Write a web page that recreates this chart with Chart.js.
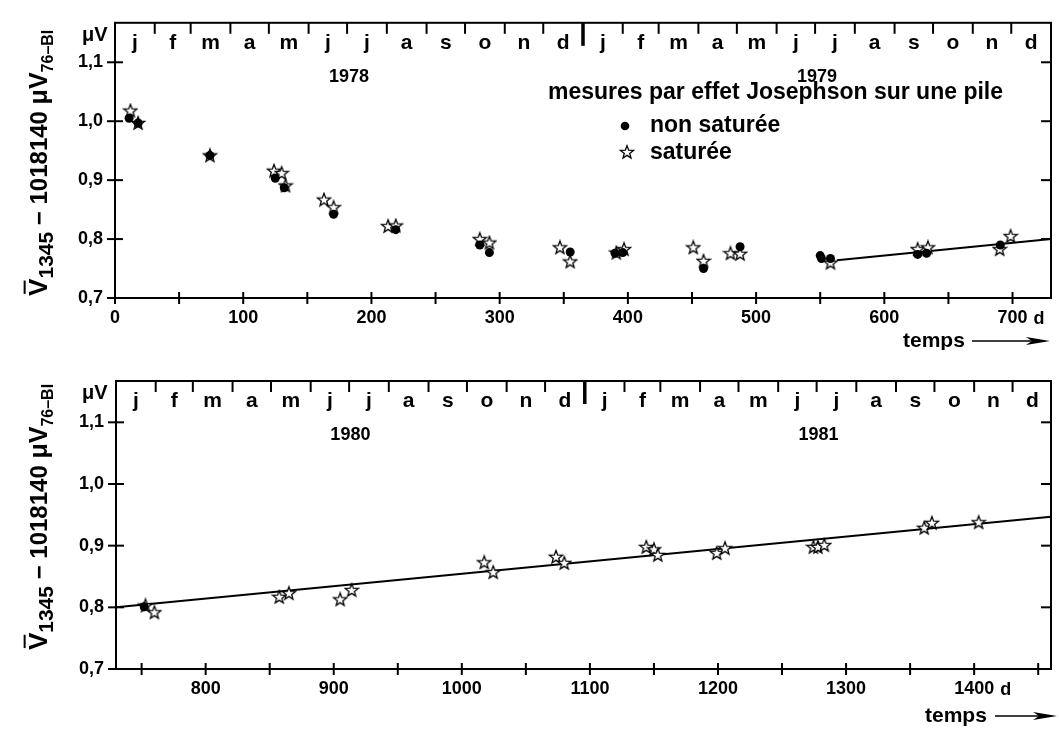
<!DOCTYPE html>
<html>
<head>
<meta charset="utf-8">
<script src="https://cdn.jsdelivr.net/npm/chart.js@4.4.0/dist/chart.umd.min.js"></script>
<style>
    html, body { margin: 0; background: #fff; }
    #wrap { position: relative; width: 1059px; height: 729px; }
    .panel { position: absolute; left: 0; width: 1059px; }
    #top { top: 0; height: 350px; }
    #bot { top: 350px; height: 379px; }
</style>
</head>
<body>
<div id="wrap">
    <div class="panel" id="top"><canvas id="c1"></canvas></div>
    <div class="panel" id="bot"><canvas id="c2"></canvas></div>
</div>
<script>
// months and month boundaries (days since 1 Jan 1978)
const months = ['j', 'f', 'm', 'a', 'm', 'j', 'j', 'a', 's', 'o', 'n', 'd']
const monthEdges1 = [0, 31, 59, 90, 120, 151, 181, 212, 243, 273, 304, 334, 365,
    396, 424, 455, 485, 516, 546, 577, 608, 638, 669, 699, 730]
const monthEdges2 = [730, 761, 790, 821, 851, 882, 912, 943, 974, 1004, 1035, 1065, 1096,
    1127, 1155, 1186, 1216, 1247, 1277, 1308, 1339, 1369, 1400, 1430, 1461]
const years1 = ['1978', '1979']
const years2 = ['1980', '1981']

const yTicks = [0.7, 0.8, 0.9, 1.0, 1.1]
const xTicks1 = [0, 50, 100, 150, 200, 250, 300, 350, 400, 450, 500, 550, 600, 650, 700]
const xTicks2 = [750, 800, 850, 900, 950, 1000, 1050, 1100, 1150, 1200, 1250, 1300, 1350, 1400, 1450]

// 1978-1979: non saturée (dots)
const dot1X = [11, 18, 74, 125, 132, 170.5, 219, 284.5, 292, 355, 390, 396, 459, 487.5, 550, 551, 558, 626, 633, 690.5]
const dot1Y = [1.005, 0.997, 0.942, 0.903, 0.887, 0.842, 0.816, 0.790, 0.777, 0.778, 0.776, 0.777, 0.750, 0.787, 0.772, 0.767, 0.767, 0.774, 0.776, 0.790]
// 1978-1979: saturée (stars)
const star1X = [12, 18, 74, 124, 130, 133, 163, 170.5, 213, 219, 284.5, 292, 347, 355, 391, 397, 451, 459, 480, 487.5, 558, 626, 634, 690, 698.5]
const star1Y = [1.018, 0.997, 0.942, 0.916, 0.912, 0.891, 0.867, 0.854, 0.822, 0.823, 0.800, 0.794, 0.786, 0.762, 0.777, 0.783, 0.786, 0.763, 0.776, 0.775, 0.760, 0.783, 0.786, 0.783, 0.805]
const fit1X = [563, 730]
const fit1Y = [0.764, 0.800]

// 1980-1981
const dot2X = [752]
const dot2Y = [0.801]
const star2X = [753, 760, 857.5, 865, 905, 914, 1017.5, 1024.5, 1073.5, 1080, 1144, 1150, 1153, 1199, 1205.5, 1274.5, 1278, 1283, 1361, 1367, 1403.5]
const star2Y = [0.803, 0.792, 0.817, 0.823, 0.813, 0.828, 0.873, 0.857, 0.882, 0.872, 0.898, 0.894, 0.885, 0.888, 0.896, 0.898, 0.898, 0.901, 0.929, 0.937, 0.938]
const fit2X = [730, 1460]
const fit2Y = [0.800, 0.947]

const FONT = '"Liberation Sans", Arial, sans-serif'
Chart.defaults.font.family = FONT
Chart.defaults.color = '#000'

function starImage(size, r) {
    const c = document.createElement('canvas')
    c.width = size
    c.height = size
    const g = c.getContext('2d')
    g.translate(size / 2, size / 2 + 0.5)
    g.beginPath()
    for (let i = 0; i < 10; i++) {
        const rr = i % 2 ? r * 0.42 : r
        const a = -Math.PI / 2 + i * Math.PI / 5
        g.lineTo(rr * Math.cos(a), rr * Math.sin(a))
    }
    g.closePath()
    g.fillStyle = '#fff'
    g.fill()
    g.lineWidth = 1.3
    g.strokeStyle = '#000'
    g.stroke()
    return c
}
const star = starImage(16, 6.8)

const pts = (xs, ys) => xs.map((x, i) => ({x, y: ys[i]}))

function drawTitle(ctx, bx, cy) {
    const parts = [
        {t: 'V', size: 26, dy: 0, bar: true},
        {t: '1345', size: 21, dy: 6},
        {t: ' \u2212 1018140 ', size: 24, dy: 0},
        {t: '\u03bcV', size: 25, dy: 0},
        {t: '76\u2013BI', size: 16, dy: 6}
    ]
    ctx.save()
    ctx.translate(bx, cy)
    ctx.rotate(-Math.PI / 2)
    let total = 0
    parts.forEach(p => {
        ctx.font = 'bold ' + p.size + 'px ' + FONT
        p.w = ctx.measureText(p.t).width
        total += p.w
    })
    let cx = -total / 2
    ctx.textAlign = 'left'
    ctx.textBaseline = 'alphabetic'
    parts.forEach(p => {
        ctx.font = 'bold ' + p.size + 'px ' + FONT
        ctx.fillText(p.t, cx, p.dy)
        if (p.bar) {
            ctx.lineWidth = 2
            ctx.beginPath()
            ctx.moveTo(cx + 2, -p.size * 0.86)
            ctx.lineTo(cx + p.w - 2, -p.size * 0.86)
            ctx.stroke()
        }
        cx += p.w
    })
    ctx.restore()
}

function drawArrow(ctx, x1, x2, y) {
    ctx.lineWidth = 1.5
    ctx.beginPath()
    ctx.moveTo(x1, y)
    ctx.lineTo(x2 - 14, y)
    ctx.stroke()
    ctx.beginPath()
    ctx.moveTo(x2, y)
    ctx.lineTo(x2 - 24, y - 4)
    ctx.lineTo(x2 - 18, y)
    ctx.lineTo(x2 - 24, y + 4)
    ctx.closePath()
    ctx.fill()
}

function makeFrame(p) {
    return {
        id: 'frame',
        afterDraw(chart) {
            const {ctx, chartArea: a, scales: {x, y}} = chart
            const seg = (x1, y1, x2, y2, w) => {
                ctx.lineWidth = w || 2
                ctx.beginPath()
                ctx.moveTo(x1, y1)
                ctx.lineTo(x2, y2)
                ctx.stroke()
            }
            ctx.save()
            ctx.strokeStyle = '#000'
            ctx.fillStyle = '#000'
            ctx.lineWidth = 2
            ctx.strokeRect(a.left, a.top, a.right - a.left, a.bottom - a.top)

            p.xTicks.forEach(v => {
                const px = x.getPixelForValue(v)
                seg(px, a.bottom - 6, px, a.bottom + 6)
            })
            yTicks.forEach(v => {
                const py = y.getPixelForValue(v)
                seg(a.left - 8, py, a.left + 8, py)
                if (v > 0.7) seg(a.right - 10, py, a.right, py)
            })

            // month ticks and letters along the top
            ctx.textAlign = 'center'
            ctx.textBaseline = 'alphabetic'
            ctx.font = 'bold 21px ' + FONT
            p.edges.forEach((e, i) => {
                if (i > 0 && i < p.edges.length - 1) {
                    const px = x.getPixelForValue(e)
                    if (i === 12) seg(px, a.top, px, a.top + 23, 3.5)
                    else seg(px, a.top, px, a.top + 11, 2)
                }
                if (i < p.edges.length - 1) {
                    const mid = (e + p.edges[i + 1]) / 2
                    ctx.fillText(months[i % 12], x.getPixelForValue(mid), a.top + 26)
                }
            })

            // years
            ctx.font = 'bold 18px ' + FONT
            p.years.forEach((yr, k) => {
                const mid = (p.edges[k * 12] + p.edges[k * 12 + 12]) / 2
                ctx.fillText(yr, x.getPixelForValue(mid), a.top + 59)
            })

            // unit at top left
            ctx.textAlign = 'left'
            ctx.font = 'bold 20px ' + FONT
            ctx.fillText('\u03bcV', 82, a.top + 18)

            // "d" after the last labelled tick
            ctx.font = 'bold 18px ' + FONT
            const lp = x.getPixelForValue(p.lastLabel)
            const hw = ctx.measureText(String(p.lastLabel)).width / 2
            ctx.fillText('d', lp + hw + 6, a.bottom + 26)

            // temps ->
            ctx.font = 'bold 21px ' + FONT
            ctx.fillText('temps', p.tempsX, a.bottom + p.tempsDy)
            drawArrow(ctx, p.arrowX1, p.arrowX2, a.bottom + p.tempsDy - 6)

            drawTitle(ctx, 47, a.top + p.titleDy)

            if (p.legend) {
                ctx.font = 'bold 23px ' + FONT
                ctx.fillText('mesures par effet Josephson sur une pile', 548, 99)
                ctx.fillText('non saturée', 650, 132)
                ctx.fillText('saturée', 650, 159)
                ctx.beginPath()
                ctx.arc(625, 126, 4.3, 0, Math.PI * 2)
                ctx.fill()
                ctx.drawImage(star, 627 - 8, 152 - 8)
            }
            ctx.restore()
        }
    }
}

function panel(canvasId, p) {
    return new Chart(document.getElementById(canvasId), {
        type: 'scatter',
        data: {
            datasets: [{
                label: 'non saturée',
                data: pts(p.dotX, p.dotY),
                pointStyle: 'circle',
                pointRadius: 4.5,
                backgroundColor: '#000',
                borderWidth: 0
            }, {
                label: 'saturée',
                data: pts(p.starX, p.starY),
                pointStyle: star,
                pointRadius: 7
            }, {
                label: 'droite',
                data: pts(p.fitX, p.fitY),
                showLine: true,
                pointRadius: 0,
                borderColor: '#000',
                borderWidth: 2
            }]
        },
        options: {
            responsive: true,
            maintainAspectRatio: false,
            animation: false,
            events: [],
            layout: {padding: {top: p.padTop, right: 2, left: 0, bottom: 0}},
            plugins: {legend: {display: false}, tooltip: {enabled: false}},
            scales: {
                x: {
                    type: 'linear',
                    min: p.xMin,
                    max: p.xMax,
                    afterBuildTicks: s => { s.ticks = p.xTicks.map(v => ({value: v})) },
                    afterFit: s => { s.height = p.xHeight },
                    grid: {display: false, drawTicks: false},
                    border: {display: false},
                    ticks: {
                        autoSkip: false, maxRotation: 0, padding: 9,
                        font: {size: 18, weight: 'bold'}, color: '#000',
                        callback: v => v % 100 === 0 ? String(v) : ''
                    }
                },
                y: {
                    min: 0.7,
                    max: 1.167,
                    afterBuildTicks: s => { s.ticks = yTicks.map(v => ({value: v})) },
                    afterFit: s => { s.width = p.yWidth },
                    grid: {display: false, drawTicks: false},
                    border: {display: false},
                    ticks: {
                        padding: 12,
                        font: {size: 18, weight: 'bold'}, color: '#000',
                        callback: v => v.toFixed(1).replace('.', ',')
                    }
                }
            }
        },
        plugins: [makeFrame(p)]
    })
}

panel('c1', {
    dotX: dot1X, dotY: dot1Y, starX: star1X, starY: star1Y, fitX: fit1X, fitY: fit1Y,
    xMin: 0, xMax: 730, xTicks: xTicks1, edges: monthEdges1, years: years1, lastLabel: 700,
    padTop: 11, xHeight: 52, yWidth: 115,
    tempsX: 903, tempsDy: 49, arrowX1: 972, arrowX2: 1050, titleDy: 140, legend: true
})

panel('c2', {
    dotX: dot2X, dotY: dot2Y, starX: star2X, starY: star2Y, fitX: fit2X, fitY: fit2Y,
    xMin: 730, xMax: 1460, xTicks: xTicks2, edges: monthEdges2, years: years2, lastLabel: 1400,
    padTop: 31, xHeight: 60, yWidth: 116,
    tempsX: 925, tempsDy: 53, arrowX1: 995, arrowX2: 1057, titleDy: 136, legend: false
})
</script>
</body>
</html>
